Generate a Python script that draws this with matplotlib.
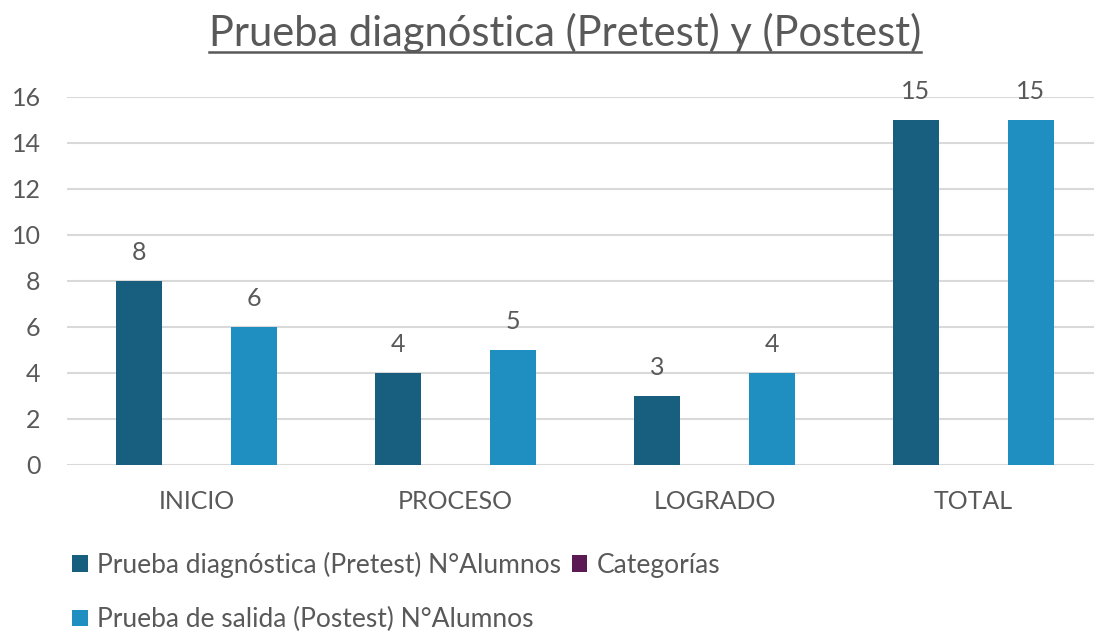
import matplotlib
matplotlib.use("Agg")
import matplotlib.pyplot as plt
from matplotlib.lines import Line2D
import numpy as np

categories = ["INICIO", "PROCESO", "LOGRADO", "TOTAL"]
pretest = [8, 4, 3, 15]
categorias = [0, 0, 0, 0]
postest = [6, 5, 4, 15]
series_names = ["Prueba diagnóstica (Pretest) N°Alumnos", "Categorías",
                "Prueba de salida (Postest) N°Alumnos"]
yticks = [0, 2, 4, 6, 8, 10, 12, 14, 16]
title = "Prueba diagnóstica (Pretest) y (Postest)"

plt.rcParams['font.family'] = ['Lato', 'DejaVu Sans']
TXT = "#595959"
C_PRE = "#175E7F"
C_CAT = "#5C1A55"
C_POST = "#1F8FC1"

W, H = 1094, 633
fig = plt.figure(figsize=(W / 100, H / 100), dpi=100)
ax = fig.add_axes([67 / W, (H - 465) / H, (W - 67) / W, 368 / H])

x = np.arange(len(categories))
bw = 0.174
off = 0.222
b1 = ax.bar(x - off, pretest, bw, color=C_PRE, label=series_names[0], zorder=3)
b2 = ax.bar(x, categorias, bw, color=C_CAT, label=series_names[1], zorder=3, linewidth=0)
b3 = ax.bar(x + off, postest, bw, color=C_POST, label=series_names[2], zorder=3)

for bars, vals in ((b1, pretest), (b3, postest)):
    for r, v in zip(bars, vals):
        ax.annotate(str(v), (r.get_x() + r.get_width() / 2, v), xytext=(0, 12),
                    textcoords="offset points", ha="center", va="bottom",
                    fontsize=18, color=TXT)

ax.set_xlim(-0.5, -0.5 + (W - 67) / 259)
ax.set_ylim(0, 16)
ax.set_yticks(yticks)
ax.set_xticks(x)
ax.set_xticklabels(categories)
ax.tick_params(axis='both', length=0, labelsize=18, labelcolor=TXT)
ax.tick_params(axis='y', pad=19)
ax.tick_params(axis='x', pad=18)
ax.grid(axis='y', color="#D9D9D9", linewidth=1.5, zorder=0)
for s in ax.spines.values():
    s.set_visible(False)

leg = fig.legend(handles=[b1, b3, b2], labels=[series_names[0], series_names[2], series_names[1]],
                 ncol=2, loc="upper left", bbox_to_anchor=(72 / W, 1 - 552 / H),
                 frameon=False, fontsize=19, handlelength=0.6, handleheight=0.6,
                 handletextpad=0.35, columnspacing=0.4, labelspacing=1.1,
                 labelcolor=TXT, borderaxespad=0, borderpad=0)

t = fig.text(565 / W, 1 - 33 / H, title, ha="center", va="center", fontsize=30, color=TXT)
fig.canvas.draw()
bb = t.get_window_extent()
uy = bb.y0 + 1
fig.add_artist(Line2D([bb.x0 / W, bb.x1 / W], [uy / H, uy / H], color=TXT, linewidth=1.8,
                      transform=fig.transFigure))

fig.savefig("out.png", dpi=100)
